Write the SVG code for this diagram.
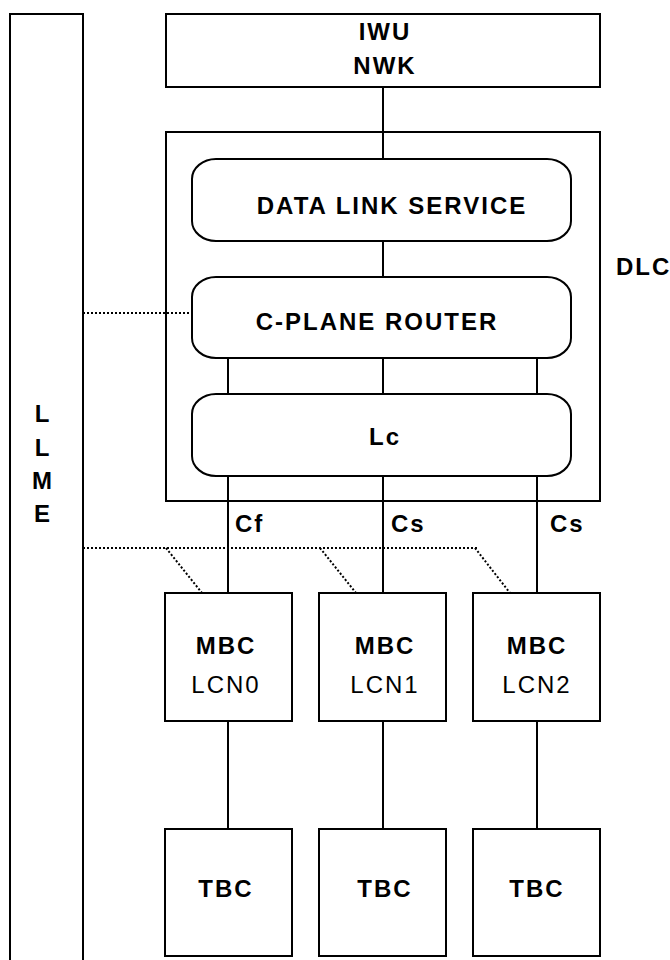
<svg xmlns="http://www.w3.org/2000/svg" width="670" height="960" viewBox="0 0 670 960">
<style>
.box{fill:#fff;stroke:#000;stroke-width:2}
.ln{stroke:#000;stroke-width:2;fill:none}
.dot{stroke:#000;stroke-width:2;fill:none;stroke-dasharray:2 2}
.t{font-family:"Liberation Sans",Arial,sans-serif;font-weight:bold;font-size:24px;letter-spacing:2px;fill:#000}
.r{font-family:"Liberation Sans",Arial,sans-serif;font-size:24px;letter-spacing:2px;fill:#000}
.m{text-anchor:middle}
</style>
<rect width="670" height="960" fill="#fff"/>
<g id="llme">
<path class="ln" d="M10,975 V14 H83 V975"/>
<text class="t m" x="43" y="422">L</text>
<text class="t m" x="43" y="456">L</text>
<text class="t m" x="43" y="489">M</text>
<text class="t m" x="43" y="522">E</text>
</g>
<g id="iwu">
<rect class="box" x="166" y="14" width="434" height="73"/>
<text class="t m" x="385" y="40">IWU</text>
<text class="t m" x="385" y="74">NWK</text>
</g>
<g id="dlc">
<rect class="box" x="166" y="132" width="434" height="369"/>
<text class="t" x="616" y="275">DLC</text>
</g>
<g id="dls">
<rect class="box" x="192" y="159" width="379" height="82" rx="24" ry="20"/>
<text class="t m" x="392" y="214">DATA LINK SERVICE</text>
</g>
<g id="cplane">
<rect class="box" x="192" y="277" width="379" height="81" rx="24" ry="20"/>
<text class="t m" x="377" y="330">C-PLANE ROUTER</text>
</g>
<g id="lc">
<rect class="box" x="192" y="394" width="379" height="82" rx="24" ry="20"/>
<text class="t m" x="385" y="445">Lc</text>
</g>
<g id="mbc0">
<rect class="box" x="165" y="593" width="127" height="128"/>
<text class="t m" x="226" y="654">MBC</text>
<text class="r m" x="226" y="693">LCN0</text>
</g>
<g id="mbc1">
<rect class="box" x="319" y="593" width="127" height="128"/>
<text class="t m" x="385" y="654">MBC</text>
<text class="r m" x="385" y="693">LCN1</text>
</g>
<g id="mbc2">
<rect class="box" x="473" y="593" width="127" height="128"/>
<text class="t m" x="537" y="654">MBC</text>
<text class="r m" x="537" y="693">LCN2</text>
</g>
<g id="tbc0">
<rect class="box" x="165" y="829" width="127" height="127"/>
<text class="t m" x="226" y="897">TBC</text>
</g>
<g id="tbc1">
<rect class="box" x="319" y="829" width="127" height="127"/>
<text class="t m" x="385" y="897">TBC</text>
</g>
<g id="tbc2">
<rect class="box" x="473" y="829" width="127" height="127"/>
<text class="t m" x="537" y="897">TBC</text>
</g>
<g id="connectors">
<path class="ln" d="M383,87 V159 M383,241 V277 M228,358 V394 M383,358 V394 M537,358 V394 M228,476 V593 M383,476 V593 M537,476 V593 M228,721 V829 M383,721 V829 M537,721 V829"/>
<path class="dot" d="M83,313 H192 M83,548 H479 M166,548 L202,593 M320,548 L356,593 M475,548 L510,593"/>
<text class="t" x="235" y="532">Cf</text>
<text class="t" x="391" y="532">Cs</text>
<text class="t" x="550" y="532">Cs</text>
</g>
</svg>
